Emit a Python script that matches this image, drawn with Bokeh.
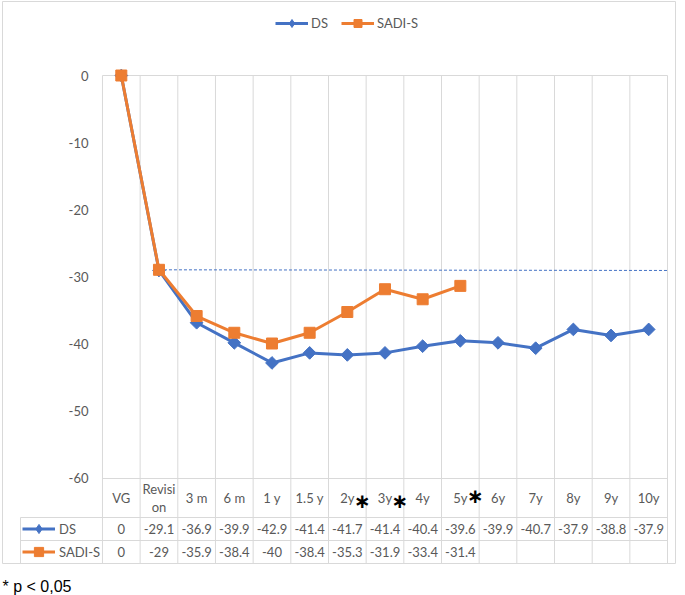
from bokeh.plotting import figure
from bokeh.models import Range1d, FixedTicker, Legend, LegendItem
from bokeh.core.properties import value
from bokeh.embed import file_html
from bokeh.resources import INLINE

# ---------------- data ----------------
categories = ["VG", "Revision", "3 m", "6 m", "1 y", "1.5 y", "2y", "3y", "4y",
              "5y", "6y", "7y", "8y", "9y", "10y"]
header_labels = ["VG", "Revisi\non", "3 m", "6 m", "1 y", "1.5 y", "2y", "3y", "4y",
                 "5y", "6y", "7y", "8y", "9y", "10y"]
ds_values = [0, -29.1, -36.9, -39.9, -42.9, -41.4, -41.7, -41.4, -40.4, -39.6,
             -39.9, -40.7, -37.9, -38.8, -37.9]
sadi_values = [0, -29, -35.9, -38.4, -40, -38.4, -35.3, -31.9, -33.4, -31.4]
significant = ["2y", "3y", "5y"]
y_ticks = [0, -10, -20, -30, -40, -50, -60]
ref_line_values = [-29.0, -29.1]
series_names = ["DS", "SADI-S"]
footnote = "* p < 0,05"

# ---------------- layout helpers ----------------
BLUE = "#4472C4"
ORANGE = "#ED7D31"
GRID = "#D9D9D9"
TXT = "#595959"
FONT = value("Lato")

W, H = 685, 595
PX = 37.67      # pixels per category
PY = 6.7        # pixels per unit
X0_PX = 120.8   # pixel of first category centre
Y0_PX = 75.0    # pixel of value 0


def dx(px):
    return (px - X0_PX) / PX


def dy(py):
    return -(py - Y0_PX) / PY


p = figure(width=W, height=H, output_backend="svg", toolbar_location=None,
           x_range=Range1d(dx(0), dx(W)), y_range=Range1d(dy(H), dy(0)),
           x_axis_location=None, min_border=0)
p.outline_line_color = None
p.xgrid.visible = False
p.ygrid.visible = False
p.background_fill_color = "white"
p.border_fill_color = "white"

ax = p.yaxis[0]
ax.ticker = FixedTicker(ticks=y_ticks)
ax.major_label_overrides = {t: str(t) for t in y_ticks}
ax.axis_line_color = None
ax.major_tick_line_color = None
ax.minor_tick_line_color = None
ax.major_tick_in = 0
ax.major_tick_out = 0
ax.major_label_standoff = -88
ax.major_label_text_font = "Lato"
ax.major_label_text_font_size = "13px"
ax.major_label_text_color = TXT

n = len(categories)
x_idx = list(range(n))
left_edge = -0.5
right_edge = n - 0.5
table_left = dx(20)
row_header_top = dy(478)
row_ds_top = dy(517)
row_sa_top = dy(540)
row_bottom = dy(563)
border_left = dx(2)
border_right = dx(675)
border_top = dy(1)

# grid / table lines
xs0, ys0, xs1, ys1 = [], [], [], []
for i in range(n + 1):
    xs0.append(i - 0.5); ys0.append(0); xs1.append(i - 0.5); ys1.append(row_bottom)
for yy in (0, row_header_top):
    xs0.append(left_edge); ys0.append(yy); xs1.append(right_edge); ys1.append(yy)
for yy in (row_ds_top, row_sa_top):
    xs0.append(table_left); ys0.append(yy); xs1.append(right_edge); ys1.append(yy)
xs0.append(table_left); ys0.append(row_ds_top); xs1.append(table_left); ys1.append(row_bottom)
# outer chart border
for (a, b, c, d) in [(border_left, border_top, border_right, border_top),
                     (border_left, row_bottom, border_right, row_bottom),
                     (border_left, border_top, border_left, row_bottom),
                     (border_right, border_top, border_right, row_bottom)]:
    xs0.append(a); ys0.append(b); xs1.append(c); ys1.append(d)
p.segment(xs0, ys0, xs1, ys1, line_color=GRID, line_width=1)

# dashed reference line
p.line([1, right_edge], ref_line_values, line_color=BLUE, line_width=1, line_dash="3 2")

# series
r_ds_line = p.line(x_idx, ds_values, line_color=BLUE, line_width=3)
p.scatter(x_idx, ds_values, marker="square", size=9, angle=0.785398,
          fill_color=BLUE, line_color=BLUE)
r_ds_key = p.scatter(x_idx, ds_values, marker="diamond", size=12,
                     fill_color=BLUE, line_color=BLUE, visible=False)
sx = list(range(len(sadi_values)))
r_sa_line = p.line(sx, sadi_values, line_color=ORANGE, line_width=3)
r_sa_pts = p.scatter(sx, sadi_values, marker="square", size=11,
                     fill_color=ORANGE, line_color=ORANGE)

# table text
hdr_y = (row_header_top + row_ds_top) / 2
ds_y = (row_ds_top + row_sa_top) / 2
sa_y = (row_sa_top + row_bottom) / 2
p.text(x_idx, [hdr_y] * n, text=header_labels, text_font=FONT, text_font_size="13px",
       text_color=TXT, text_align="center", text_baseline="middle", text_line_height=1.15)
p.text(x_idx, [ds_y] * n, text=[f"{v:g}" for v in ds_values], text_font=FONT,
       text_font_size="13px", text_color=TXT, text_align="center", text_baseline="middle")
p.text(sx, [sa_y] * len(sadi_values), text=[f"{v:g}" for v in sadi_values], text_font=FONT,
       text_font_size="13px", text_color=TXT, text_align="center", text_baseline="middle")

sig_x = [categories.index(c) for c in significant]
p.text(sig_x, [hdr_y] * len(sig_x), text=["∗"] * len(sig_x), x_offset=15,
       y_offset=[3, 3, -2], text_font=value("DejaVu Sans"), text_font_style="bold",
       text_font_size="20px", text_color="black", text_align="center",
       text_baseline="middle")

# footnote
p.text([dx(2)], [dy(586)], text=[footnote], text_font=value("Liberation Sans"),
       text_font_size="16px", text_color="black", text_align="left",
       text_baseline="alphabetic")

legend_style = dict(margin=0, padding=0, border_line_color=None, background_fill_alpha=0,
                    inactive_fill_alpha=0, label_text_font="Lato",
                    label_text_font_size="13px", label_text_color=TXT)

items_top = [LegendItem(label=series_names[0], renderers=[r_ds_line, r_ds_key]),
             LegendItem(label=series_names[1], renderers=[r_sa_line, r_sa_pts])]
top_legend = Legend(items=items_top, orientation="horizontal", location=(275, H - 33),
                    spacing=10, glyph_width=33, glyph_height=20,
                    label_standoff=3, **legend_style)
p.add_layout(top_legend)

items_tab = [LegendItem(label=series_names[0], renderers=[r_ds_line, r_ds_key]),
             LegendItem(label=series_names[1], renderers=[r_sa_line, r_sa_pts])]
tab_legend = Legend(items=items_tab, orientation="vertical", location=(22, H - 563),
                    spacing=0, glyph_width=33, glyph_height=23,
                    label_standoff=4, label_height=23, **legend_style)
p.add_layout(tab_legend)

open("out.html", "w").write(file_html(p, INLINE))
